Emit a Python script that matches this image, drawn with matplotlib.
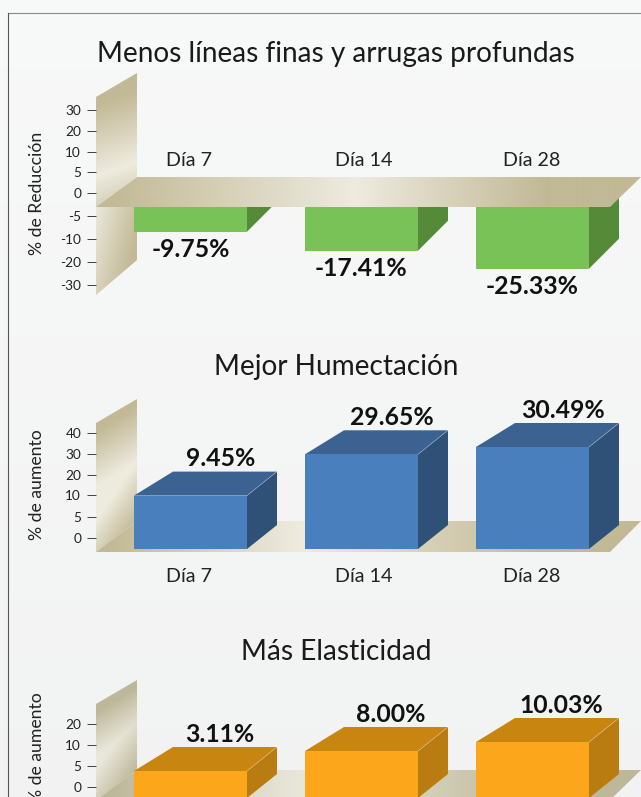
import numpy as np
import matplotlib
matplotlib.use("Agg")
import matplotlib.pyplot as plt
from matplotlib.patches import Polygon
from matplotlib.ticker import NullLocator
from matplotlib.transforms import IdentityTransform

plt.rcParams['font.family'] = ['Lato', 'DejaVu Sans']

W, H = 641, 797
days = ['Día 7', 'Día 14', 'Día 28']

titles = ['Menos líneas finas y arrugas profundas', 'Mejor Humectación', 'Más Elasticidad']
ylabels = ['% de Reducción', '% de aumento', '% de aumento']

reduccion = [-9.75, -17.41, -25.33]
humectacion = [9.45, 29.65, 30.49]
elasticidad = [3.11, 8.00, 10.03]

ticks_reduccion = [-30, -20, -10, -5, 0, 5, 10, 20, 30]
ticks_humectacion = [0, 5, 10, 20, 30, 40]
ticks_elasticidad = [0, 5, 10, 20]

# the source chart's axes are not linear: value -> pixel row
scale_reduccion = ([-40, -30, -25.33, -20, -17.41, -10, -9.75, -5, -3.04, 0, 5, 10, 20, 30, 60],
                   [300, 285, 268.7, 262, 250.7, 239, 231.7, 216, 207, 193, 172, 152, 131, 110, 60])
scale_humectacion = ([-5, -2.7, 0, 5, 9.45, 10, 20, 29.65, 30, 30.49, 40, 60],
                     [560, 549, 537.7, 517, 495.6, 495.3, 475, 454.3, 454, 447, 433, 380])
scale_elasticidad = ([-10, -2.6, 0, 3.11, 5, 8, 10, 10.03, 20, 60],
                     [830, 798, 787, 771, 766, 751, 745, 742, 724, 650])
baselines = [-3.04, -2.7, -2.6]

TAN = np.array([0xc2, 0xb9, 0x96]) / 255
LIGHT = np.array([0xee, 0xeb, 0xdf]) / 255
TAN3 = np.array([0xbe, 0xb8, 0x9a]) / 255
LIGHT3 = np.array([0xe9, 0xe7, 0xdb]) / 255

fig = plt.figure(figsize=(W / 100, H / 100), dpi=100)
bg = fig.add_axes([0, 0, 1, 1], zorder=0)
bg.set_xlim(0, W); bg.set_ylim(H, 0); bg.axis('off')
fg = fig.add_axes([0, 0, 1, 1], zorder=5)
fg.set_xlim(0, W); fg.set_ylim(H, 0); fg.axis('off'); fg.patch.set_alpha(0)


def paint(ax, verts, func, tan=TAN, light=LIGHT, zorder=1):
    xs = [v[0] for v in verts]; ys = [v[1] for v in verts]
    x0, x1, y0, y1 = min(xs), max(xs), min(ys), max(ys)
    gx, gy = np.meshgrid(np.linspace(x0, x1, 300), np.linspace(y0, y1, 300))
    L = np.clip(func(gx, gy), 0, 1)[..., None]
    im = ax.imshow(tan + L * (light - tan), extent=[x0, x1, y1, y0], aspect='auto',
                   zorder=zorder, interpolation='bilinear')
    im.set_clip_path(Polygon(verts, transform=ax.transData))
    ax.set_xlim(0, W); ax.set_ylim(H, 0)


# page background and frame
gy = np.linspace(0xf8, 0xf2, 200)[:, None] / 255
bg.imshow(np.dstack([gy, gy + 0.002, gy + 0.002]), extent=[0, W, H, 0], aspect='auto', zorder=0)
bg.set_xlim(0, W); bg.set_ylim(H, 0)
bg.plot([7.5, W], [12.5, 12.5], color='#8a8a8a', lw=0.8, zorder=1)
bg.plot([7.5, 7.5], [12.5, H], color='#555555', lw=0.8, zorder=1)


def wall(top_l, top_r, bot_r, bot_l, band, slope, fall, tan=TAN, light=LIGHT):
    def f(x, y):
        t = y + slope * (x - 96)
        a = (t - top_l - 8) / (band - top_l - 8)
        b = 1 - (x - 96) / 41 * fall + (bot_r - y) / 60
        return np.minimum(a, b)
    paint(bg, [(96, top_l), (137, top_r), (137, bot_r), (96, bot_l)], f, tan, light)


def floor_grad(peak):
    def f(x, y):
        return np.where(x < peak, (x - 110) / (peak - 110), 1 - (x - peak) / (545 - peak))
    return f


# panel 1 walls and floor
wall(97, 73, 177, 207, 176, 0.35, 0.25)
paint(bg, [(96, 207), (137, 207), (137, 260), (96, 295)],
      lambda x, y: 0.95 - (x - 96) / 41 * 0.8 - (y - 207) / 90 * 0.45)
paint(fg, [(96, 207), (137, 177), (641, 177), (610, 207)], floor_grad(355))
# panel 2
wall(423, 399, 521, 552, 487, 0.6, 1.0)
paint(bg, [(96, 552), (137, 521), (641, 521), (610, 552)], floor_grad(300), zorder=1)
# panel 3
wall(704, 680, 770, 800, 755, 0.6, 1.0, TAN3, LIGHT3)
paint(bg, [(96, 800), (137, 770), (641, 770), (610, 800)], floor_grad(300), TAN3, LIGHT3)

panels = [
    dict(values=reduccion, ticks=ticks_reduccion, scale=scale_reduccion,
         front='#79c257', top=None, side='#558b38', depth=(30, 30), inset=0,
         lab_dx=0, lab_dy=-18.0, day_dy=47, title_y=54, yl=(37, 193), show_days=True),
    dict(values=humectacion, ticks=ticks_humectacion, scale=scale_humectacion,
         front='#4a7fbe', top='#3b6290', side='#2f5177', depth=(30, 24), inset=9,
         lab_dx=30.5, lab_dy=36.8, day_dy=-28, title_y=367, yl=(37, 485), show_days=True),
    dict(values=elasticidad, ticks=ticks_elasticidad, scale=scale_elasticidad,
         front='#fca71b', top='#c8850f', side='#b87c10', depth=(30, 24), inset=9,
         lab_dx=29, lab_dy=36.8, day_dy=-28, title_y=652, yl=(37, 748), show_days=False),
]
day_dx = [-1.5, 2.5, -1]
pt = 72 / 100  # points per pixel
px_w = 171.0
ident = IdentityTransform()

for p, title, ylab, base in zip(panels, titles, ylabels, baselines):
    vals, pix = p['scale']
    top, bot = min(pix), max(pix)
    ax = fig.add_axes([96 / W, (H - bot) / H, (W - 96) / W, (bot - top) / H], zorder=2)
    ax.patch.set_alpha(0)
    v = np.array(vals, float); q = -np.array(pix, float)
    ax.set_yscale('function', functions=(lambda a, v=v, q=q: np.interp(a, v, q),
                                          lambda a, v=v, q=q: np.interp(a, q, v)))
    ax.set_ylim(v[0], v[-1])
    ax.set_xlim((96 - 190.5) / px_w, (W - 190.5) / px_w)
    ax.autoscale(False)
    for s in ax.spines.values():
        s.set_visible(False)
    ax.set_xticks([])
    ax.set_yticks(p['ticks'])
    ax.yaxis.set_minor_locator(NullLocator())
    ax.set_yticklabels([str(t) for t in p['ticks']], fontsize=9.8, color='#222222')
    ax.tick_params(axis='y', length=9.4 * pt, width=0.9 * pt, color='#333333', pad=5.5 * pt)

    xpos = np.arange(len(days))
    vals_p = p['values']
    ax.bar(xpos, np.array(vals_p) - base, width=113 / px_w, bottom=base,
           color=p['front'], linewidth=0, zorder=3)
    dx, dy = p['depth']
    for i, val in enumerate(vals_p):
        (l, yb), (r, yt) = ax.transData.transform([(i - 113 / px_w / 2, base),
                                                   (i + 113 / px_w / 2, val)])
        ax.add_patch(Polygon([(r, yb), (r + dx, yb + dy), (r + dx, yt + dy), (r, yt)],
                             closed=True, transform=ident, facecolor=p['side'],
                             edgecolor='none', zorder=2, clip_on=False))
        if p['top']:
            ax.add_patch(Polygon([(l, yt), (r, yt), (r + dx, yt + dy), (l + dx + p['inset'], yt + dy)],
                                 closed=True, transform=ident, facecolor=p['top'],
                                 edgecolor='none', zorder=2, clip_on=False))
            ax.plot([r, r + dx], [yt, yt + dy], transform=ident, color='#ffffff',
                    alpha=0.35, lw=0.5, zorder=4, clip_on=False)
        ax.annotate(f'{val:.2f}%', xy=(i, val), xytext=(p['lab_dx'], p['lab_dy']),
                    textcoords='offset pixels',
                    ha='center', va='center', fontsize=17.8, fontweight='bold',
                    color='#111111', annotation_clip=False, zorder=6)
        if p['show_days']:
            ax.annotate(days[i], xy=(i, base), xytext=(day_dx[i], p['day_dy']),
                        textcoords='offset pixels', ha='center', va='center',
                        fontsize=14.2, color='#222222', annotation_clip=False, zorder=6)

    fig.text(336 / W, 1 - p['title_y'] / H, title, ha='center', va='center',
             fontsize=20.2, color='#1a1a1a')
    fig.text(p['yl'][0] / W, 1 - p['yl'][1] / H, ylab, rotation=90, ha='center', va='center',
             fontsize=12.7, color='#222222')

fig.savefig('out.png', dpi=100)
